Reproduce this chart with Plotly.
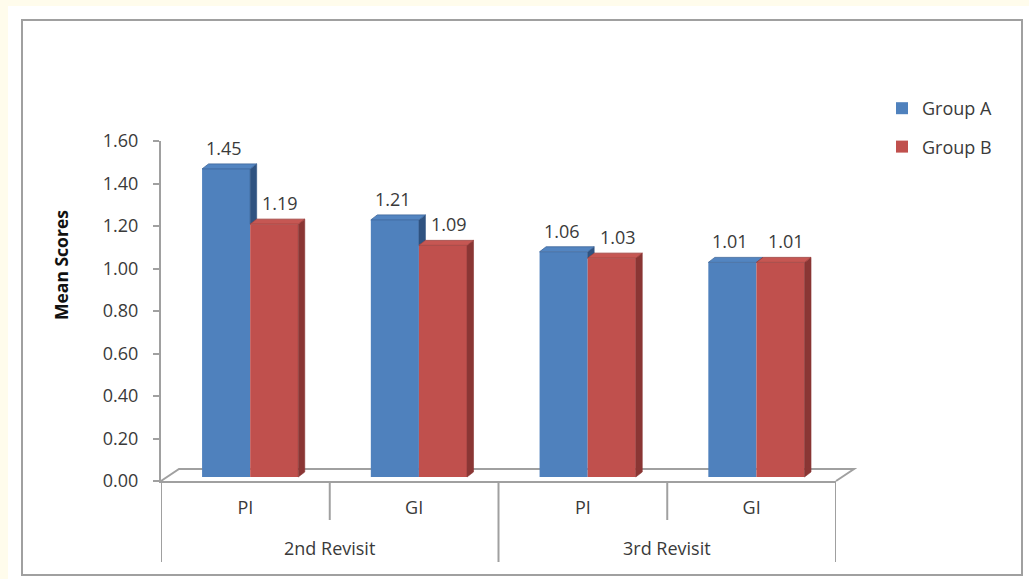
import plotly.graph_objects as go

# ---- data -------------------------------------------------------------
visits = ["2nd Revisit", "2nd Revisit", "3rd Revisit", "3rd Revisit"]
sites = ["PI", "GI", "PI", "GI"]
group_a = [1.45, 1.21, 1.06, 1.01]
group_b = [1.19, 1.09, 1.03, 1.01]
series_names = ["Group A", "Group B"]
y_ticks = [0.0, 0.2, 0.4, 0.6, 0.8, 1.0, 1.2, 1.4, 1.6]

# ---- styling ----------------------------------------------------------
FONT = "Open Sans"
TEXT = "#3a3a3a"
GRID = "#a0a0a0"
FRONT = ["#4f81bd", "#c0504d"]
TOP = ["#5385c1", "#c65753"]
SIDE = ["#2f5381", "#8a3634"]
EDGE = ["#3d6699", "#9c3e3b"]

W, H = 1029, 579
L, R, T, B = 161, 193, 141, 98
PW, PH = W - L - R, H - T - B
Y_MAX = 1.6

def px(x):  # pixel column -> paper x
    return (x - L) / PW

def py(y):  # pixel row -> paper y
    return (H - B - y) / PH

n = len(sites)
BARGAP = 0.43
bw = (1 - BARGAP) / 2          # width of one bar in category units
# oblique projection of the depth direction (category / value units)
FLOOR_DX, FLOOR_DY = 18 / (PW / n), 12 / (PH / Y_MAX)
BAR_DX, BAR_DY = 6.5 / (PW / n), 5 / (PH / Y_MAX)
SHIFT_X, SHIFT_Y = 4.8 / (PW / n), 4 / (PH / Y_MAX)

fig = go.Figure()

series = [group_a, group_b]
for j, vals in enumerate(series):
    fig.add_trace(go.Bar(
        x=list(range(n)), y=vals, name=series_names[j],
        marker=dict(color=FRONT[j], line=dict(width=0)),
        xaxis="x2", yaxis="y2", legendgroup=series_names[j],
        offsetgroup=str(j), hoverinfo="name+y",
    ))

# 3D side and top faces of each bar
for j, vals in enumerate(series):
    sx, sy, tx, ty = [], [], [], []
    for i, v in enumerate(vals):
        left = i - bw + j * bw
        right = left + bw
        if j + 1 < len(series):
            floor = min(v, series[j + 1][i])
        else:
            floor = 0
        sx += [right, right, right + BAR_DX, right + BAR_DX, right, None]
        sy += [floor, v, v + BAR_DY, floor + BAR_DY, floor, None]
        tx += [left, right, right + BAR_DX, left + BAR_DX, left, None]
        ty += [v, v, v + BAR_DY, v + BAR_DY, v, None]
    fig.add_trace(go.Scatter(x=sx, y=sy, fill="toself", fillcolor=SIDE[j],
                             line=dict(width=0.6, color=SIDE[j]), mode="lines",
                             xaxis="x2", yaxis="y2", showlegend=False,
                             hoverinfo="skip"))
    fig.add_trace(go.Scatter(x=tx, y=ty, fill="toself", fillcolor=TOP[j],
                             line=dict(width=0.8, color=EDGE[j]), mode="lines",
                             xaxis="x2", yaxis="y2", showlegend=False,
                             hoverinfo="skip"))

annotations = []
# value labels above each bar
label_xshift = [-2, 6]
for j, vals in enumerate(series):
    for i, v in enumerate(vals):
        annotations.append(dict(
            x=i + (j - 0.5) * bw, y=v, xref="x2", yref="y2",
            text=f"{v:.2f}", showarrow=False,
            xanchor="center", yanchor="bottom", yshift=7,
            xshift=label_xshift[j],
            font=dict(family=FONT, size=18, color=TEXT)))

# second-level category labels
groups = []
for i, g in enumerate(visits):
    if not groups or groups[-1][0] != g:
        groups.append([g, i, i])
    else:
        groups[-1][2] = i
for g, a, b in groups:
    annotations.append(dict(x=(a + b) / 2, y=0, xref="x", yref="paper",
                            yshift=-67, text=g, showarrow=False,
                            xanchor="center", yanchor="middle",
                            font=dict(family=FONT, size=18, color=TEXT)))

annotations.append(dict(x=px(61), y=py(265), xref="paper", yref="paper",
                        text="<b>Mean Scores</b>", textangle=-90,
                        showarrow=False, xanchor="center", yanchor="middle",
                        font=dict(family=FONT, size=17.5, color="#111111")))

# floor of the 3D plot area, in paper units so it is not clipped
fdx, fdy = FLOOR_DX / n, FLOOR_DY / Y_MAX
shapes = [
    # white panel and its border
    dict(type="rect", xref="paper", yref="paper", x0=px(8), x1=px(W + 2),
         y0=py(H + 2), y1=py(6), fillcolor="white", line=dict(width=0),
         layer="below"),
    dict(type="rect", xref="paper", yref="paper", x0=px(22), x1=px(1022),
         y0=py(575), y1=py(20), fillcolor="rgba(0,0,0,0)",
         line=dict(color=GRID, width=2), layer="below"),
    dict(type="path", xref="paper", yref="paper", layer="below",
         path=f"M 0,0 L {fdx},{fdy} L {1 + fdx},{fdy} L 1,0",
         line=dict(color=GRID, width=2)),
]
# dividers below the category axis
bounds = [g[1] - 0.5 for g in groups] + [n - 0.5]
for k in range(n + 1):
    xb = k - 0.5
    depth = 81 if xb in bounds else 39
    shapes.append(dict(type="line", xref="x", yref="paper", x0=xb, x1=xb,
                       ysizemode="pixel", yanchor=0, y0=0, y1=-depth,
                       line=dict(color=GRID, width=2)))

fig.update_layout(
    width=W, height=H,
    margin=dict(l=L, r=R, t=T, b=B, pad=0),
    paper_bgcolor="#fffcec", plot_bgcolor="rgba(0,0,0,0)",
    font=dict(family=FONT, size=18, color=TEXT),
    barmode="group", bargap=BARGAP, bargroupgap=0,
    showlegend=True,
    legend=dict(x=px(882), y=py(90), xanchor="left", yanchor="top",
                bgcolor="rgba(0,0,0,0)", traceorder="grouped",
                tracegroupgap=12, font=dict(family=FONT, size=18, color=TEXT)),
    xaxis=dict(range=[-0.5, n - 0.5], tickvals=list(range(n)), ticktext=sites,
               showline=True, linecolor=GRID, linewidth=2, showgrid=False,
               zeroline=False, ticks="", ticklabelstandoff=9,
               tickfont=dict(family=FONT, size=18, color=TEXT)),
    yaxis=dict(range=[0, Y_MAX], tickvals=y_ticks,
               ticktext=[f"{t:.2f}" for t in y_ticks], showline=True,
               linecolor=GRID, linewidth=2, showgrid=False, zeroline=False,
               ticks="outside", ticklen=6, tickwidth=2, tickcolor=GRID,
               ticklabelstandoff=11,
               tickfont=dict(family=FONT, size=18, color=TEXT)),
    xaxis2=dict(overlaying="x", range=[-0.5 - SHIFT_X, n - 0.5 - SHIFT_X],
                visible=False, showgrid=False, zeroline=False),
    yaxis2=dict(overlaying="y", range=[-SHIFT_Y, Y_MAX - SHIFT_Y],
                visible=False, showgrid=False, zeroline=False),
    annotations=annotations,
    shapes=shapes,
)

fig.write_html("out.html")
